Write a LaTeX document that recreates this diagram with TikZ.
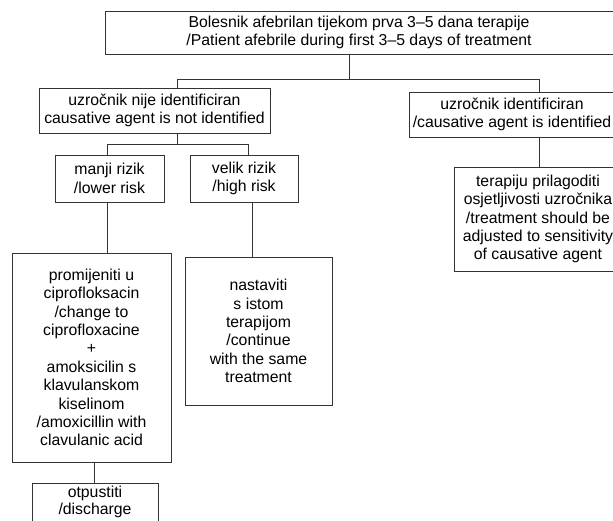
\documentclass[tikz,border=0pt]{standalone}
\usepackage{fontspec}
\setmainfont{Liberation Sans}
\tikzset{
  box/.style={draw=black!80, line width=0.9pt, align=center, inner sep=0pt,
    font=\fontsize{15.8}{18.4}\selectfont, text=black},
  link/.style={draw=black!80, line width=0.9pt}
}
\begin{document}
\begin{tikzpicture}[x=1pt,y=-1pt]
\useasboundingbox (0,0) rectangle (613,520);
\node[box, minimum width=508pt, minimum height=43pt] (top) at (359,32.5)
  {Bolesnik afebrilan tijekom prva 3–5 dana terapije\\/Patient afebrile during first 3–5 days of treatment};
\node[box, minimum width=231pt, minimum height=45pt] (nije) at (154.5,110.5)
  {uzročnik nije identificiran\\causative agent is not identified};
\node[box, minimum width=206pt, minimum height=45pt] (ident) at (512,114.5)
  {uzročnik identificiran\\/causative agent is identified};
\node[box, minimum width=109pt, minimum height=47pt] (manji) at (109.5,178.5)
  {manji rizik\\/lower risk};
\node[box, minimum width=108pt, minimum height=47pt] (velik) at (244,178.5)
  {velik rizik\\/high risk};
\node[box, minimum width=159pt, minimum height=209pt] (prom) at (91.5,357.5)
  {promijeniti u\\ciprofloksacin\\/change to\\ciprofloxacine\\+\\amoksicilin s\\klavulanskom\\kiselinom\\/amoxicillin with\\clavulanic acid};
\node[box, minimum width=147pt, minimum height=148pt] (nast) at (258.5,331)
  {nastaviti\\s istom\\terapijom\\/continue\\with the same\\treatment};
\node[box, minimum width=168pt, minimum height=104pt] (terap) at (538,219)
  {terapiju prilagoditi\\osjetljivosti uzročnika\\/treatment should be\\adjusted to sensitivity\\of causative agent};
\node[box, font=\fontsize{15.8}{16.8}\selectfont, minimum width=126pt, minimum height=38pt] (otp) at (95,502)
  {otpustiti\\/discharge};
% junctions
\coordinate (j1) at (349,79);
\coordinate (j1l) at (177,79);
\coordinate (j1r) at (539,79);
\coordinate (j2) at (177,144);
\coordinate (j2l) at (107,144);
\coordinate (j2r) at (248,144);
\draw[link] (top.south -| j1) -- (j1);
\draw[link] (nije.north -| j1l) -- (j1l) -- (j1r) -- (ident.north -| j1r);
\draw[link] (nije.south -| j2) -- (j2);
\draw[link] (manji.north -| j2l) -- (j2l) -- (j2r) -- (velik.north -| j2r);
\draw[link] (manji.south -| 107,0) -- (prom.north -| 107,0);
\draw[link] (velik.south -| 252,0) -- (nast.north -| 252,0);
\draw[link] (ident.south -| 539,0) -- (terap.north -| 539,0);
\draw[link] (prom.south -| 94,0) -- (otp.north -| 94,0);
\end{tikzpicture}
\end{document}
